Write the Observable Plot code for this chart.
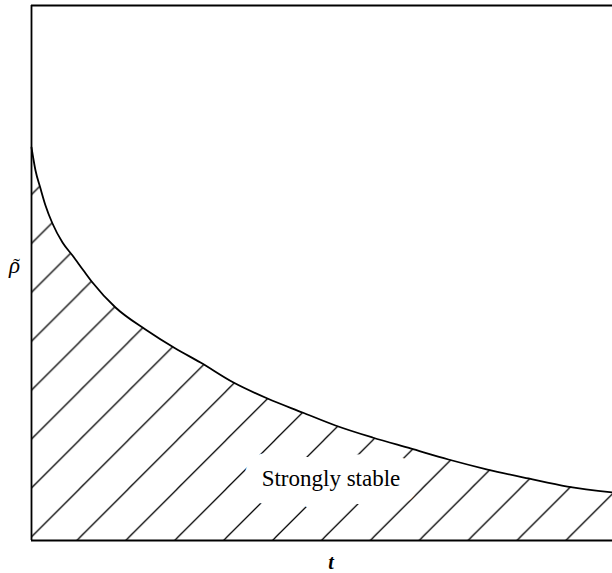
<!DOCTYPE html>
<html>
<head>
<meta charset="utf-8">
<script src="https://cdn.jsdelivr.net/npm/d3@7"></script>
<script src="https://cdn.jsdelivr.net/npm/@observablehq/plot@0.6"></script>
<style>
  html, body { margin: 0; padding: 0; background: #fff; }
  #chart svg { display: block; }
</style>
</head>
<body>
<div id="chart"></div>
<script>
// Boundary curve rho~(t) of the strongly stable region
const tValues   = [0, 0.069, 0.155, 0.241, 0.361, 0.534, 0.706, 0.895, 1.050, 1.446, 1.962, 2.478, 2.909, 3.477, 4.062, 4.664, 5.232, 5.869, 6.523, 7.177, 7.849, 8.554, 9.225, 10];
const rhoValues = [7.346, 6.916, 6.579, 6.262, 5.925, 5.570, 5.327, 5.047, 4.822, 4.355, 3.944, 3.589, 3.327, 2.953, 2.654, 2.393, 2.150, 1.925, 1.720, 1.514, 1.327, 1.159, 1.009, 0.897];

const regionLabel = ["Strongly stable"];
const labelT = [5.155];
const labelRho = [1.028];
const xLabel = "t";
const yLabel = "ρ";
const yLabelAccent = "˜";

const curve = tValues.map((t, i) => ({t, rho: rhoValues[i]}));
const labels = regionLabel.map((text, i) => ({text, t: labelT[i], rho: labelRho[i]}));

const serif = "'Liberation Serif', 'DejaVu Serif', serif";

const svg = Plot.plot({
  width: 612,
  height: 573,
  marginLeft: 31,
  marginRight: 0,
  marginTop: 5,
  marginBottom: 33,
  x: {domain: [0, 10], axis: null},
  y: {domain: [0, 10], axis: null},
  marks: [
    Plot.areaY(curve, {x: "t", y: "rho", fill: "url(#hatch)", curve: "monotone-x"}),
    Plot.text(labels, {x: "t", y: "rho", text: "text", fontFamily: serif, fontSize: 23, lineAnchor: "bottom",
      fill: "white", stroke: "white", strokeWidth: 36, strokeLinejoin: "round"}),
    Plot.lineY(curve, {x: "t", y: "rho", stroke: "black", strokeWidth: 1.8, curve: "monotone-x"}),
    Plot.ruleX([0], {stroke: "black", strokeWidth: 1.8}),
    Plot.ruleY([0, 10], {stroke: "black", strokeWidth: 1.8}),
    Plot.text(labels, {x: "t", y: "rho", text: "text", fontFamily: serif, fontSize: 23, lineAnchor: "bottom", fill: "black"}),
    Plot.text([yLabel], {text: d => d, frameAnchor: "left", dx: -17, dy: 0, lineAnchor: "bottom", textAnchor: "middle",
      fontFamily: serif, fontStyle: "italic", fontSize: 23, fill: "black"}),
    Plot.text([yLabelAccent], {text: d => d, frameAnchor: "left", dx: -15, dy: 0, lineAnchor: "bottom", textAnchor: "middle",
      fontFamily: serif, fontSize: 20, fill: "black"}),
    Plot.text([xLabel], {text: d => d, frameAnchor: "bottom", dx: 9, dy: 28, lineAnchor: "bottom", textAnchor: "middle",
      fontFamily: serif, fontStyle: "italic", fontWeight: "bold", fontSize: 20, fill: "black"})
  ]
});

// hatch pattern: 45° lines, horizontal spacing ~49px
const P = 48.9;
const defs = d3.select(svg).insert("defs", ":first-child");
const pat = defs.append("pattern")
  .attr("id", "hatch")
  .attr("patternUnits", "userSpaceOnUse")
  .attr("x", 30.5).attr("y", 0)
  .attr("width", P).attr("height", P);
pat.append("path")
  .attr("d", `M0,${P} L${P},0 M-2,2 L2,-2 M${P - 2},${P + 2} L${P + 2},${P - 2}`)
  .attr("stroke", "black")
  .attr("stroke-width", 1.25)
  .attr("fill", "none");

document.getElementById("chart").appendChild(svg);
</script>
</body>
</html>
